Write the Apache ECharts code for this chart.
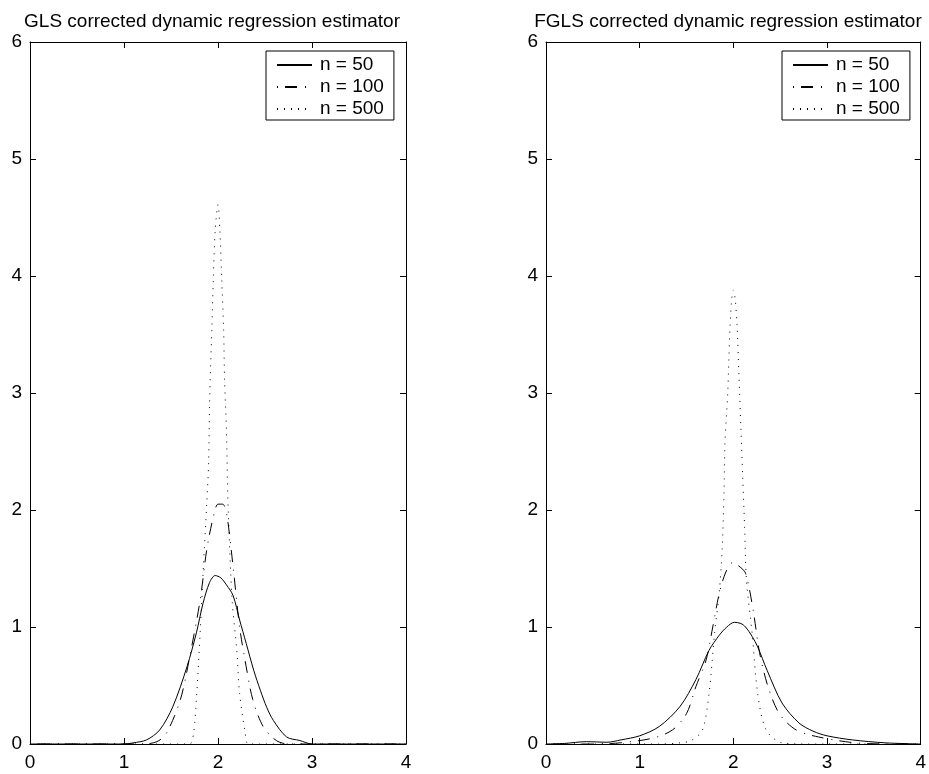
<!DOCTYPE html>
<html>
<head>
<meta charset="utf-8">
<script src="https://cdn.jsdelivr.net/npm/echarts@6/dist/echarts.min.js"></script>
<style>html,body{margin:0;padding:0;background:#fff}#c{width:929px;height:774px}</style>
</head>
<body>
<div id="c"></div>
<script>
// ---- data ----
const titles = ['GLS corrected dynamic regression estimator', 'FGLS corrected dynamic regression estimator'];
const seriesNames = ['n = 50', 'n = 100', 'n = 500'];
const xTicks = [0, 1, 2, 3, 4];
const yTicks = [0, 1, 2, 3, 4, 5, 6];

// GLS panel
const glsN50X = [0, 1.0, 1.1, 1.24, 1.38, 1.52, 1.67, 1.77, 1.84, 1.91, 1.97, 2.03, 2.09, 2.16, 2.23, 2.30, 2.38, 2.45, 2.52, 2.59, 2.73, 2.87, 3.0, 4];
const glsN50Y = [0, 0, 0.01, 0.035, 0.12, 0.32, 0.66, 0.95, 1.2, 1.38, 1.44, 1.42, 1.36, 1.27, 1.06, 0.86, 0.63, 0.46, 0.31, 0.2, 0.06, 0.03, 0, 0];
const glsN100X = [0, 1.2, 1.35, 1.45, 1.6, 1.7, 1.81, 1.88, 1.95, 2.0, 2.05, 2.09, 2.16, 2.23, 2.3, 2.37, 2.48, 2.62, 2.75, 4];
const glsN100Y = [0, 0, 0.02, 0.09, 0.38, 0.75, 1.23, 1.66, 1.94, 2.05, 2.05, 1.98, 1.52, 1.0, 0.66, 0.38, 0.15, 0.03, 0, 0];
const glsN500X = [0, 1.6, 1.70, 1.74, 1.77, 1.81, 1.845, 1.88, 1.90, 1.91, 1.92, 1.935, 1.95, 1.97, 2.0, 2.02, 2.04, 2.06, 2.07, 2.09, 2.10, 2.11, 2.15, 2.20, 2.23, 2.29, 2.32, 2.45, 4];
const glsN500Y = [0, 0, 0, 0.09, 0.38, 0.95, 1.52, 2.05, 2.4, 2.9, 3.2, 3.55, 3.97, 4.39, 4.61, 4.39, 3.97, 3.54, 3.11, 2.68, 2.26, 1.97, 1.23, 0.8, 0.43, 0.09, 0, 0, 0];

// FGLS panel
const fglsN50X = [0, 0.2, 0.43, 0.65, 0.8, 1.0, 1.21, 1.43, 1.6, 1.74, 1.85, 1.93, 2.01, 2.08, 2.13, 2.2, 2.26, 2.36, 2.52, 2.7, 2.85, 3.0, 3.27, 3.62, 4];
const fglsN50Y = [0, 0.005, 0.02, 0.015, 0.035, 0.07, 0.15, 0.32, 0.55, 0.80, 0.93, 1.0, 1.04, 1.03, 1.0, 0.92, 0.83, 0.63, 0.35, 0.18, 0.11, 0.07, 0.035, 0.01, 0];
const fglsN100X = [0, 0.5, 0.79, 1.14, 1.35, 1.5, 1.6, 1.71, 1.78, 1.85, 1.92, 1.99, 2.06, 2.13, 2.21, 2.28, 2.37, 2.49, 2.67, 2.91, 3.3, 3.7, 4];
const fglsN100Y = [0, 0, 0.01, 0.05, 0.12, 0.26, 0.49, 0.72, 1.0, 1.29, 1.47, 1.55, 1.52, 1.46, 1.15, 0.78, 0.49, 0.26, 0.12, 0.06, 0.01, 0, 0];
const fglsN500X = [0, 1.2, 1.43, 1.55, 1.67, 1.74, 1.80, 1.85, 1.88, 1.90, 1.91, 1.94, 1.96, 1.98, 2.0, 2.02, 2.04, 2.06, 2.08, 2.10, 2.12, 2.14, 2.20, 2.26, 2.35, 2.52, 2.8, 4];
const fglsN500Y = [0, 0, 0.01, 0.03, 0.12, 0.43, 0.95, 1.3, 1.66, 2.14, 2.57, 3.0, 3.48, 3.78, 3.88, 3.8, 3.57, 3.14, 2.71, 2.28, 1.86, 1.4, 0.95, 0.43, 0.12, 0.01, 0, 0];

// ---- chart ----
const FONT = 'Liberation Sans, Arial, Helvetica, sans-serif';
const pairs = (xs, ys) => xs.map((x, i) => [x, ys[i]]);
const lineTypes = ['solid', [12, 8, 1, 7], [1, 6]];
const dashOffsets = [0, 20, 0];
const panelData = [
  [pairs(glsN50X, glsN50Y), pairs(glsN100X, glsN100Y), pairs(glsN500X, glsN500Y)],
  [pairs(fglsN50X, fglsN50Y), pairs(fglsN100X, fglsN100Y), pairs(fglsN500X, fglsN500Y)]
];
const gridLefts = [30, 546];
const legendLefts = [266, 782];
const PW = 376, PT = 42, PH = 702;

const grids = [], xAxes = [], yAxes = [], series = [], titleArr = [], legends = [];
const axisLine = { show: true, onZero: false, lineStyle: { color: '#000', width: 1 } };
const tick = { show: true, inside: true, length: 6, lineStyle: { color: '#000', width: 1 } };
const lab = { color: '#000', fontSize: 19, fontFamily: FONT };

for (let p = 0; p < 2; p++) {
  grids.push({ left: gridLefts[p], top: PT, width: PW, height: PH, containLabel: false });
  const xMin = xTicks[0], xMax = xTicks[xTicks.length - 1];
  const yMin = yTicks[0], yMax = yTicks[yTicks.length - 1];
  xAxes.push({ type: 'value', gridIndex: p, position: 'bottom', min: xMin, max: xMax, interval: 1,
    axisLine, axisTick: tick, splitLine: { show: false }, axisLabel: { ...lab, margin: 9 } });
  xAxes.push({ type: 'value', gridIndex: p, position: 'top', min: xMin, max: xMax, interval: 1,
    axisLine, axisTick: tick, splitLine: { show: false }, axisLabel: { show: false } });
  yAxes.push({ type: 'value', gridIndex: p, position: 'left', min: yMin, max: yMax, interval: 1,
    axisLine, axisTick: tick, splitLine: { show: false }, axisLabel: { ...lab, margin: 8 } });
  yAxes.push({ type: 'value', gridIndex: p, position: 'right', min: yMin, max: yMax, interval: 1,
    axisLine, axisTick: tick, splitLine: { show: false }, axisLabel: { show: false } });
  titleArr.push({ text: titles[p], left: gridLefts[p] + PW / 2 - 11, top: 7, textAlign: 'center',
    textStyle: { color: '#000', fontSize: 19, fontWeight: 'normal', fontFamily: FONT } });
  legends.push({ data: seriesNames, orient: 'vertical', left: legendLefts[p], top: PT + 9,
    backgroundColor: '#fff', borderColor: '#000', borderWidth: 1, borderRadius: 0,
    padding: [4, 10, 1, 10], itemWidth: 35, itemHeight: 20, itemGap: 2,
    selectedMode: false,
    itemStyle: { opacity: 0, borderWidth: 0 },
    textStyle: { color: '#000', fontSize: 19, fontFamily: FONT, lineHeight: 20, padding: [0, 0, 0, 3] } });
  for (let s = 0; s < 3; s++) {
    series.push({ name: seriesNames[s], type: 'line', xAxisIndex: 2 * p, yAxisIndex: 2 * p,
      data: panelData[p][s], symbol: 'none', smooth: 0.3, clip: true,
      lineStyle: { color: '#000', width: 1, type: lineTypes[s], dashOffset: dashOffsets[s] },
      itemStyle: { color: '#000' }, emphasis: { disabled: true } });
  }
}

const chart = echarts.init(document.getElementById('c'), null, { renderer: 'canvas' });
chart.setOption({
  animation: false,
  backgroundColor: '#fff',
  title: titleArr,
  legend: legends,
  grid: grids,
  xAxis: xAxes,
  yAxis: yAxes,
  series
});
</script>
</body>
</html>
